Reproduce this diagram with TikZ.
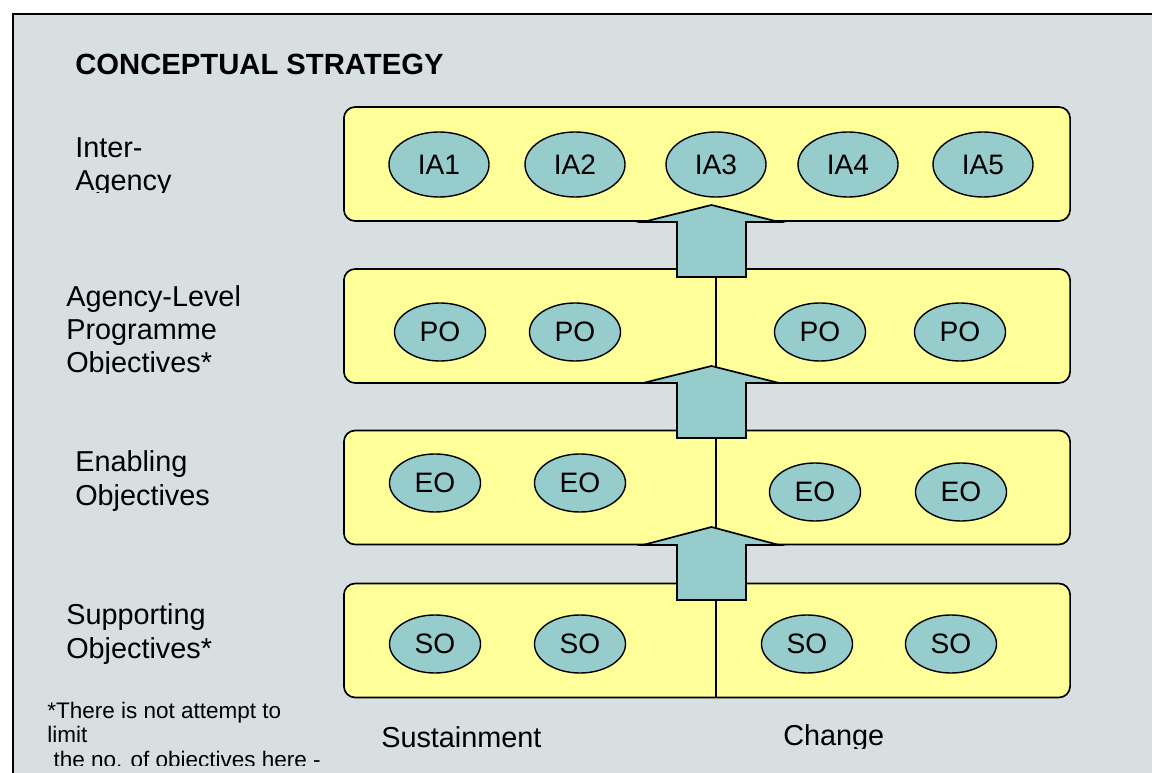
\documentclass[tikz,border=0pt]{standalone}
\usepackage{fontspec}
\setmainfont{Liberation Sans}
\usetikzlibrary{shapes.geometric}

\definecolor{panelgrey}{RGB}{215,223,224}
\definecolor{rowyellow}{RGB}{255,255,153}
\definecolor{goalteal}{RGB}{150,204,204}

\begin{document}
\begin{tikzpicture}[x=0.025cm, y=-0.025cm,
    level/.style = {draw, line width=1.2pt, rounded corners=8pt, fill=rowyellow,
        minimum width=18.15cm, minimum height=2.85cm},
    goal/.style = {ellipse, draw, line width=1pt, fill=goalteal, inner sep=0pt,
        minimum width=2.275cm, minimum height=1.45cm,
        font=\fontsize{20}{24}\selectfont},
    wide/.style = {minimum width=2.5cm, minimum height=1.625cm},
    lift/.style = {draw, line width=1.2pt, fill=goalteal},
    caption/.style = {anchor=base west, inner sep=0pt, align=left,
        font=\fontsize{20.5}{23.5}\selectfont}]

\useasboundingbox (0,0) rectangle (1152,773);

% Panel
\fill[white] (0,0) rectangle (1152,773);
\draw[line width=1.2pt, fill=panelgrey] (13,14) rectangle (1180,800);

\node[anchor=base west, inner sep=0pt, font=\bfseries\fontsize{20.8}{24}\selectfont]
    (title) at (75,75) {CONCEPTUAL STRATEGY};

% Rows
\node[level] (rowIA) at (707,164) {};
\node[level] (rowPO) at (707,326) {};
\node[level] (rowEO) at (707,487.5) {};
\node[level] (rowSO) at (707,640.5) {};

% Split sustainment / change
\coordinate (split) at (716,0);
\foreach \r in {rowPO, rowEO, rowSO}
    \draw[line width=1pt] (\r.north -| split) -- (\r.south -| split);

% Objectives
\foreach \n/\x in {1/439, 2/575, 3/716, 4/848, 5/983}
    \node[goal, wide] (ia\n) at (\x,164.5) {IA\n};
\foreach \n/\x in {1/440, 2/575, 3/820, 4/960}
    \node[goal] (po\n) at (\x,332) {PO};
\foreach \n/\x/\y in {1/435/483, 2/580/483, 3/815/492, 4/961/492}
    \node[goal] (eo\n) at (\x,\y) {EO};
\foreach \n/\x in {1/435, 2/580, 3/807, 4/951}
    \node[goal] (so\n) at (\x,644) {SO};

% Arrows up between rows
\foreach \tip/\base in {205/222, 366/383, 527/545}
    \draw[lift] (711.5,\tip) -- (779,\base) -- (746,\base) -- (746,\base+55)
        -- (677,\base+55) -- (677,\base) -- (643,\base) -- cycle;

% Row captions (anchored on the last line)
\begin{scope}
    \clip (13,14) rectangle (340,193);
    \node[caption] (tierIA) at (75,191) {Inter-\\Agency};
\end{scope}
\begin{scope}
    \clip (13,14) rectangle (340,374);
    \node[caption] (tierPO) at (66,373) {Agency-Level\\Programme\\Objectives*};
\end{scope}
\node[caption] (tierEO) at (75,505) {Enabling\\Objectives};
\node[caption] (tierSO) at (66,658) {Supporting\\Objectives*};

% Footnote
\begin{scope}
    \clip (13,14) rectangle (340,765);
    \node[caption, font=\fontsize{16}{17.4}\selectfont] (note) at (47,767)
        {*There is not attempt to\\limit\\\ the no. of objectives here -};
\end{scope}

% Column captions
\node[caption] (sustain) at (381,747) {Sustainment};
\begin{scope}
    \clip (700,700) rectangle (950,748);
    \node[caption] (change) at (783,745) {Change};
\end{scope}
\end{tikzpicture}
\end{document}
